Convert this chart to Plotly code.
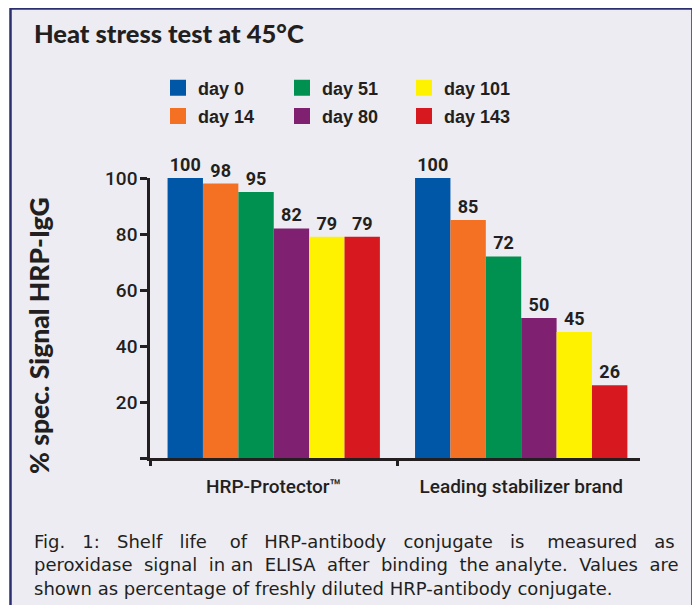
import plotly.graph_objects as go

categories = ["HRP-Protector™", "Leading stabilizer brand"]
days = ["day 0", "day 14", "day 51", "day 80", "day 101", "day 143"]
protector = [100, 98, 95, 82, 79, 79]
leading = [100, 85, 72, 50, 45, 26]
colors = ["#0057A8", "#F47023", "#00904F", "#7F2070", "#FFF200", "#D7191F"]
y_ticks = [0, 20, 40, 60, 80, 100]
y_ticktext = ["", "20", "40", "60", "80", "100"]

title_text = "Heat stress test at 45°C"
y_title = "% spec. Signal HRP-IgG"
caption = [
    "Fig. 1: Shelf life of HRP-antibody conjugate is measured as",
    "peroxidase signal in an ELISA after binding the analyte. Values are",
    "shown as percentage of freshly diluted HRP-antibody conjugate.",
]
# extra non-breaking spaces per word gap, to imitate the justified caption
caption_extra = [[2, 2, 2, 3, 2, 2, 2, 3, 2, 2], [1, 1, 0, 1, 1, 1, 1, 0, 1, 1], []]

# the page body adds an 8px margin, so the figure starts at screen (8, 8)
OFF = 8
W, H = 700 - OFF, 605 - OFF
ML, MR, MT, MB = 150 - OFF, W - (640 - OFF), 178 - OFF, H - (458 - OFF)
PW, PH = W - ML - MR, H - MT - MB


def px(x):
    return (x - OFF - ML) / PW


def py(y):
    return (H - MB - (y - OFF)) / PH


def justify(line, extra):
    words = line.split(" ")
    out = words[0]
    for k, w in enumerate(words[1:]):
        n = extra[k] if k < len(extra) else 0
        out += " " + "\u00a0" * n + w
    return out


INK = "#231F20"
SANS = "Roboto, Liberation Sans, sans-serif"
HEAVY = "Lato, Open Sans, sans-serif"

fig = go.Figure()
for i, d in enumerate(days):
    fig.add_trace(go.Bar(
        x=categories, y=[protector[i], leading[i]], name=d,
        marker=dict(color=colors[i], line=dict(width=0)),
        text=[str(protector[i]), str(leading[i])], textposition="outside",
        textangle=0, constraintext="none", cliponaxis=False,
        textfont=dict(family=SANS, size=18, color=INK, weight="bold"),
        showlegend=False, hoverinfo="skip",
    ))

legend_names = ["legend", "legend2", "legend3"]
for i, d in enumerate(days):
    fig.add_trace(go.Scatter(
        x=[None], y=[None], mode="markers", name=d,
        marker=dict(symbol="square", size=18, color=colors[i]),
        legend=legend_names[i // 2], legendgroup=d, showlegend=True,
    ))

leg_common = dict(
    orientation="v", bgcolor="rgba(0,0,0,0)", borderwidth=0,
    font=dict(family="Liberation Sans, Arial, sans-serif", size=18, color=INK, weight="bold"),
    tracegroupgap=2, xanchor="left", yanchor="top", itemwidth=30,
)
leg_x = [158, 282, 404]
layout_legends = {}
for j, ln in enumerate(legend_names):
    layout_legends[ln] = dict(leg_common, x=px(leg_x[j]), y=py(69.5))

fig.update_layout(
    width=W, height=H,
    margin=dict(l=ML, r=MR, t=MT, b=MB),
    paper_bgcolor="white", plot_bgcolor="rgba(0,0,0,0)",
    barmode="group", bargap=0.142, bargroupgap=0,
    showlegend=True,
    **layout_legends,
    xaxis=dict(
        type="category", range=[-0.5, 1.48], showline=True, linewidth=2.5,
        linecolor=INK, ticks="outside", tickson="boundaries", ticklen=5,
        tickwidth=2.5, tickcolor=INK, showgrid=False, zeroline=False,
        tickfont=dict(family=SANS, size=19, color=INK, weight=500),
        ticklabelstandoff=9,
    ),
    yaxis=dict(
        range=[0, 100], showline=True, linewidth=2.5, linecolor=INK,
        ticks="outside", ticklen=7, tickwidth=2.5, tickcolor=INK,
        tickvals=y_ticks, ticktext=y_ticktext, showgrid=False, zeroline=False,
        tickfont=dict(family=SANS, size=19, color=INK, weight=500),
        ticklabelstandoff=-1,
    ),
    shapes=[dict(
        type="rect", xref="paper", yref="paper", layer="below",
        x0=px(10.5), x1=px(692.5), y0=py(640), y1=py(8.5),
        line=dict(color="#2B2F6E", width=2.5), fillcolor="#EDECF3",
    )],
)

caption_text = "<br>".join(justify(l, e) for l, e in zip(caption, caption_extra))
annotations = [
    dict(text=title_text, x=px(32), y=py(32.5), xanchor="left", yanchor="middle",
         font=dict(family=HEAVY, size=25.5, color=INK, weight=900)),
    dict(text=y_title, x=px(39), y=py(336), xanchor="center", yanchor="middle",
         textangle=-90, font=dict(family=HEAVY, size=26.5, color=INK, weight=900)),
    dict(text=caption_text, x=px(32), y=py(565), xanchor="left",
         yanchor="middle", align="left",
         font=dict(family="DejaVu Sans, sans-serif", size=18, color=INK)),
]
for a in annotations:
    a.update(xref="paper", yref="paper", showarrow=False)
fig.update_layout(annotations=annotations)

fig.write_html("out.html")
